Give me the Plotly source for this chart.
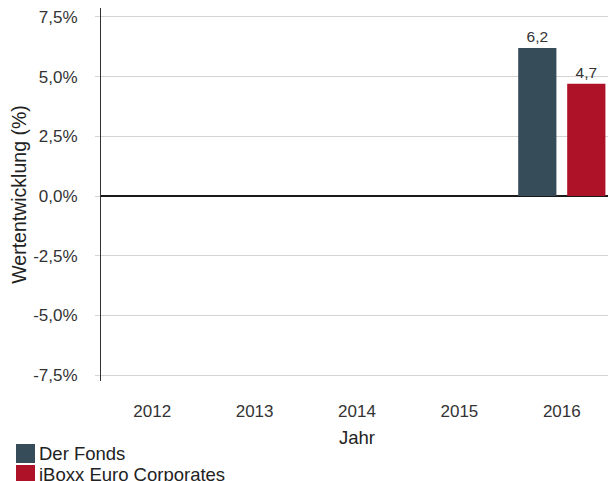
import plotly.graph_objects as go

years = ["2012", "2013", "2014", "2015", "2016"]
series_names = ["Der Fonds", "iBoxx Euro Corporates"]
series_colors = ["#364c59", "#ae1229"]
fonds = [None, None, None, None, 6.2]
iboxx = [None, None, None, None, 4.7]
y_tickvals = [-7.5, -5.0, -2.5, 0.0, 2.5, 5.0, 7.5]
y_ticktext = ["-7,5%", "-5,0%", "-2,5%", "0,0%", "2,5%", "5,0%", "7,5%"]

FONT = "Liberation Sans, Arial, sans-serif"

# page body adds an 8px offset; work in figure pixels = screen pixels - 8
OFF = 8
FW, FH = 616 - OFF, 481 - OFF
L, R, T, B = 101 - OFF, 3, 0, 100
W, H = FW - L - R, FH - T - B


def px_x(px):
    return (px - OFF - L) / W


def px_y(py):
    return (FH - B - (py - OFF)) / H


fig = go.Figure()
for name, color, vals in zip(series_names, series_colors, [fonds, iboxx]):
    fig.add_trace(go.Bar(
        x=years, y=vals, name=name, marker_color=color, marker_line_width=0,
        texttemplate="%{y:.1f}", textposition="outside",
        textfont=dict(size=15.5, color="#333333", family=FONT), cliponaxis=False,
        showlegend=False,
    ))

# Manual legend (large square swatches, as in the reference)
for i, (name, color) in enumerate(zip(series_names, series_colors)):
    top = 444 + i * 21
    fig.add_shape(type="rect", xref="paper", yref="paper",
                  x0=px_x(16), x1=px_x(35), y0=px_y(top + 19), y1=px_y(top),
                  fillcolor=color, line_width=0, layer="above")
    fig.add_annotation(xref="paper", yref="paper", x=px_x(37), y=px_y(top + 9.5),
                       xanchor="left", yanchor="middle", text=name, showarrow=False,
                       font=dict(size=18.5, color="#222222", family=FONT))

fig.update_layout(
    width=FW, height=FH,
    margin=dict(l=L, r=R, t=T, b=B, autoexpand=False),
    paper_bgcolor="white", plot_bgcolor="white",
    separators=",.",
    barmode="group", bargap=0.043, bargroupgap=0.22,
    font=dict(family=FONT, size=17, color="#333333"),
    showlegend=False,
)

fig.update_xaxes(
    type="category", categoryorder="array", categoryarray=years,
    showgrid=False, showline=False, zeroline=False,
    ticks="", ticklabelstandoff=18, ticklabeloverflow="allow",
    tickfont=dict(size=17, color="#333333"),
    title=dict(text="Jahr", font=dict(size=18.5, color="#222222"), standoff=11),
)
fig.update_yaxes(
    range=[-7.75, 7.876], tickvals=y_tickvals, ticktext=y_ticktext,
    showgrid=True, gridcolor="#d4d4d4", gridwidth=1,
    zeroline=True, zerolinecolor="#1a1a1a", zerolinewidth=2,
    showline=True, linecolor="#333333", linewidth=1,
    ticks="outside", ticklen=5, tickcolor="#d4d4d4",
    ticklabelstandoff=14, ticklabeloverflow="allow",
    tickfont=dict(size=17, color="#333333"),
    title=dict(text="Wertentwicklung (%)", font=dict(size=19.5, color="#222222"), standoff=3),
)

fig.write_html("out.html")
